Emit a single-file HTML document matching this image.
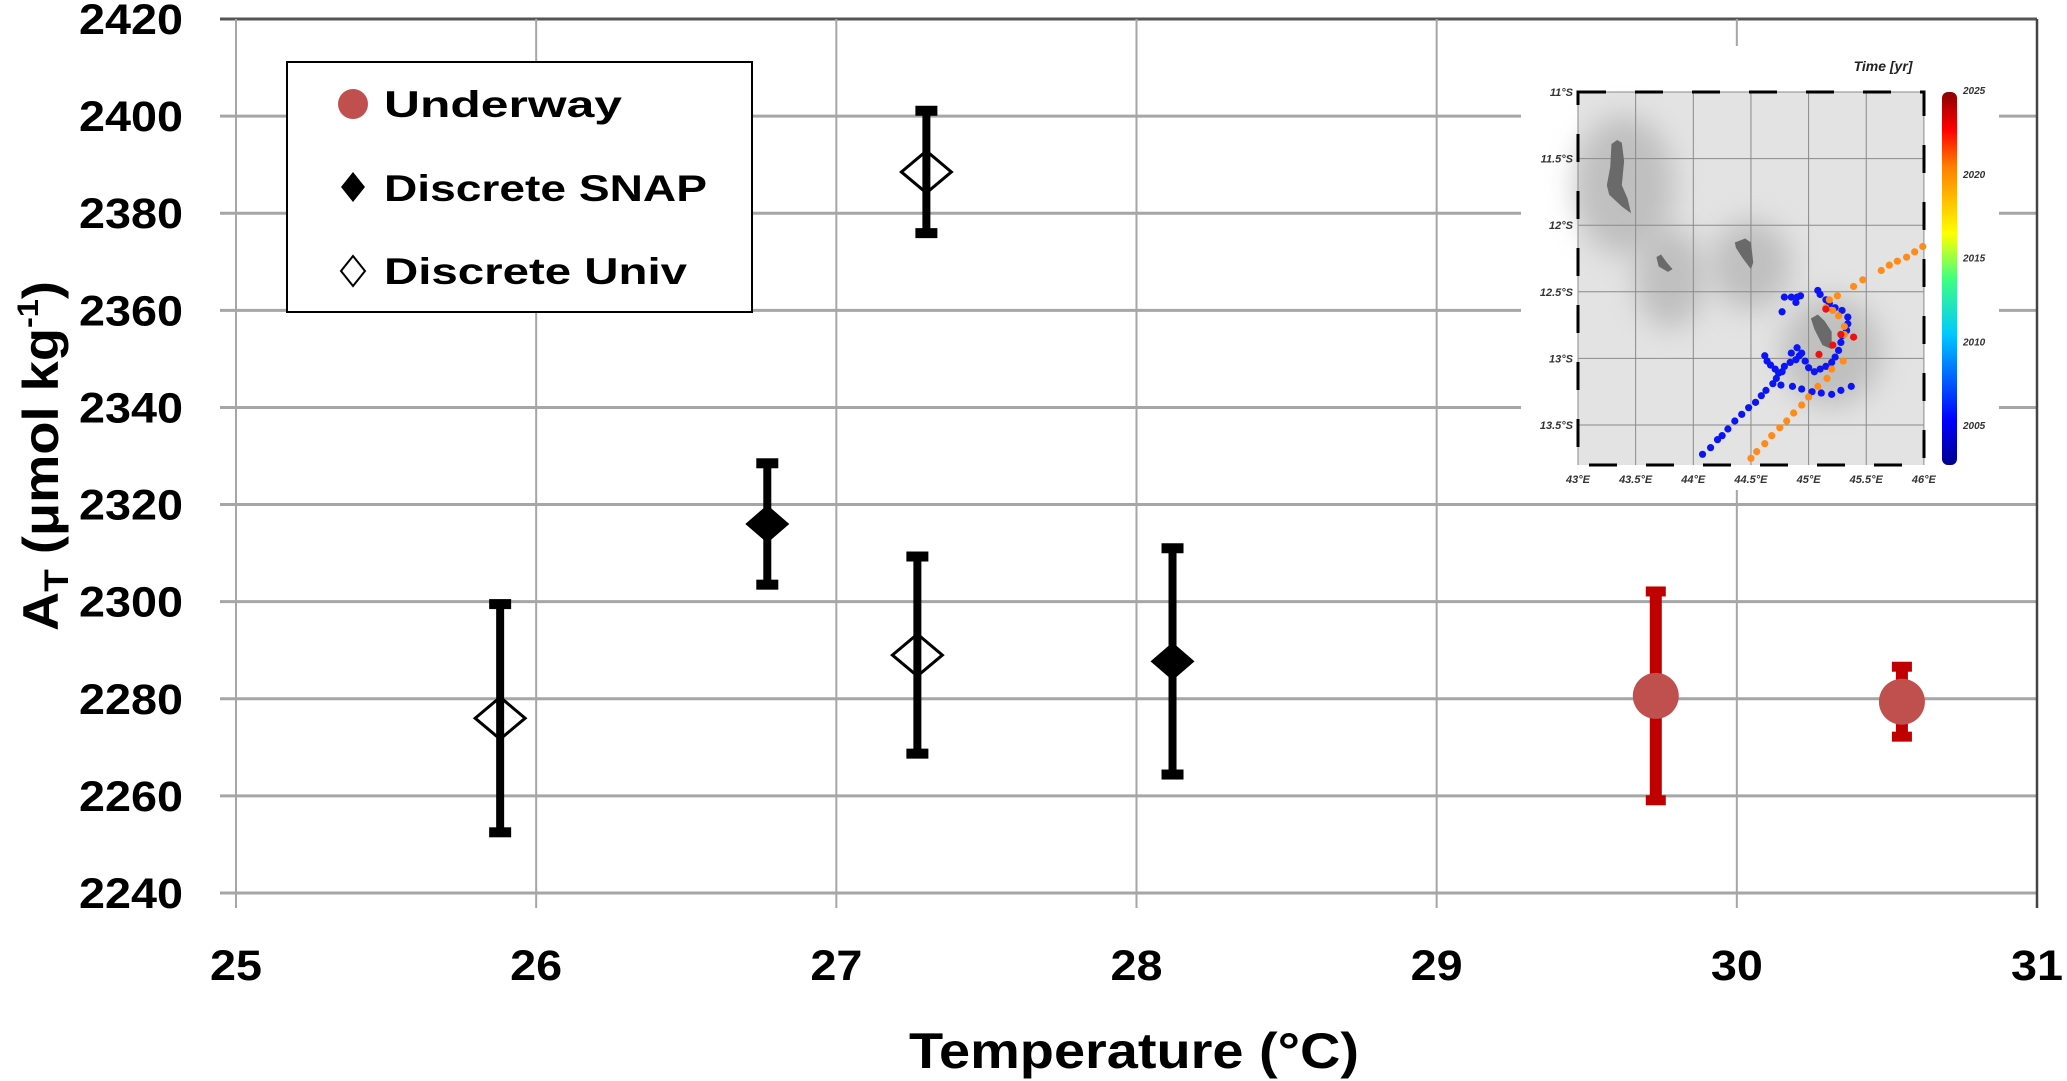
<!DOCTYPE html>
<html><head><meta charset="utf-8"><style>
html,body{margin:0;padding:0;background:#fff;}
svg{display:block;font-family:"Liberation Sans",sans-serif;}
</style></head><body>
<svg id="chart" width="2067" height="1081" viewBox="0 0 2067 1081" xmlns="http://www.w3.org/2000/svg">
<g id="grid"></g>
<g id="ticks"></g>
<g id="marks"></g>
<text transform="translate(58,456) rotate(-90)" text-anchor="middle" font-weight="bold" font-size="50" textLength="350" lengthAdjust="spacingAndGlyphs" fill="#000">A<tspan font-size="34" dy="10">T</tspan><tspan dy="-10"> (μmol kg</tspan><tspan font-size="30" dy="-20">-1</tspan><tspan dy="20">)</tspan></text>
<text x="1134" y="1068" text-anchor="middle" font-weight="bold" font-size="50" textLength="450" lengthAdjust="spacingAndGlyphs" fill="#000">Temperature (°C)</text>
<g>
<rect x="287" y="62" width="465" height="250" fill="#fff" stroke="#000" stroke-width="2"/>
<circle cx="353" cy="104" r="15" fill="#c0504d"/>
<text x="384" y="117" font-weight="bold" font-size="37" textLength="238" lengthAdjust="spacingAndGlyphs">Underway</text>
<path d="M353,172 L365,187 L353,202 L341,187Z" fill="#000"/>
<text x="384" y="201" font-weight="bold" font-size="37" textLength="323" lengthAdjust="spacingAndGlyphs">Discrete SNAP</text>
<path d="M353,256 L365,271 L353,286 L341,271Z" fill="#fff" stroke="#000" stroke-width="2"/>
<text x="384" y="284" font-weight="bold" font-size="37" textLength="303" lengthAdjust="spacingAndGlyphs">Discrete Univ</text>
</g>
<g id="inset"></g>
</svg>
<script>
const NS="http://www.w3.org/2000/svg";
const xTicks=[25,26,27,28,29,30,31];
const yTicks=[2240,2260,2280,2300,2320,2340,2360,2380,2400,2420];
const underwayT=[29.73,30.55];
const underwayAT=[2280.6,2279.4];
const underwayErr=[21.5,7.2];
const snapT=[26.77,28.12];
const snapAT=[2316,2287.7];
const snapErr=[12.5,23.3];
const univT=[25.88,27.3,27.27];
const univAT=[2276,2388.5,2289];
const univErr=[23.5,12.6,20.3];
// inset map data (lon °E, lat °S)
const blueLon=[44.08,44.15,44.21,44.25,44.30,44.36,44.42,44.48,44.54,44.59,44.63,44.69,44.72,44.74,44.71,44.67,44.64,44.62,44.76,44.77,44.79,44.84,44.89,44.92,44.94,44.97,45.0,45.05,45.10,45.15,45.20,45.23,45.26,45.28,45.29,45.33,45.34,45.34,45.29,45.23,45.18,45.15,45.10,45.08,44.86,44.94,45.03,45.11,45.20,45.28,45.37,44.79,44.85,44.90,44.93,44.89,44.77,44.90,44.85];
const blueLat=[13.72,13.67,13.61,13.58,13.53,13.47,13.42,13.37,13.33,13.28,13.24,13.19,13.15,13.11,13.08,13.05,13.02,12.98,13.20,13.10,13.06,13.03,13.01,12.98,12.96,13.02,13.07,13.10,13.08,13.06,13.03,12.99,12.94,12.88,12.83,12.79,12.74,12.69,12.64,12.62,12.59,12.56,12.52,12.49,13.21,13.23,13.25,13.26,13.27,13.24,13.21,12.54,12.54,12.54,12.53,12.58,12.65,12.92,12.96];
const orangeLon=[44.50,44.55,44.62,44.68,44.75,44.81,44.87,44.94,45.0,45.08,45.16,45.20,45.30,45.31,45.31,45.26,45.21,45.15,45.18,45.25,45.39,45.47,45.63,45.70,45.77,45.85,45.92,45.99];
const orangeLat=[13.75,13.70,13.64,13.58,13.52,13.47,13.41,13.35,13.29,13.21,13.15,13.08,13.02,12.82,12.76,12.68,12.64,12.62,12.56,12.53,12.46,12.41,12.34,12.30,12.27,12.24,12.20,12.16];
const redLon=[45.15,45.28,45.39,45.21,45.09];
const redLat=[12.63,12.82,12.84,12.90,12.97];
const islGCLon=[43.29,43.34,43.38,43.40,43.38,43.43,43.46,43.38,43.27,43.25,43.28];
const islGCLat=[11.39,11.36,11.38,11.52,11.70,11.80,11.91,11.86,11.77,11.70,11.56];
const islMoLon=[43.68,43.72,43.77,43.82,43.78,43.70];
const islMoLat=[12.24,12.22,12.28,12.33,12.35,12.31];
const islAnLon=[44.36,44.45,44.50,44.52,44.50,44.43,44.37];
const islAnLat=[12.13,12.10,12.13,12.28,12.33,12.25,12.17];
const islMaLon=[45.02,45.08,45.14,45.20,45.20,45.12,45.05];
const islMaLat=[12.70,12.67,12.72,12.80,12.93,12.90,12.78];
const lonTicks=[43,43.5,44,44.5,45,45.5,46];
const latTicks=[11,11.5,12,12.5,13,13.5];
const cbTicks=[2005,2010,2015,2020,2025];

const X0=236,X1=2037,Y0=893,Y1=19;
const xs=t=>X0+(t-25)/6*(X1-X0);
const ys=v=>Y0-(v-2240)/180*(Y0-Y1);
const mx=l=>1578+(l-43)*115.3;
const my=l=>92+(l-11)*133.2;
const cby=y=>467-(y-2002.5)/(2025-2002.5)*(467-90);

function mk(tag,attrs,parent){const e=document.createElementNS(NS,tag);for(const k in attrs)e.setAttribute(k,attrs[k]);parent.appendChild(e);return e;}
const grid=document.getElementById('grid'),ticks=document.getElementById('ticks'),marks=document.getElementById('marks'),inset=document.getElementById('inset');

yTicks.forEach(v=>{
  const l=mk('line',{x1:220,x2:X1,y1:ys(v),y2:ys(v),stroke:v===2420?'#555':'#a6a6a6','stroke-width':3},grid);
  
  
  const t=mk('text',{x:183,y:ys(v)+15,'text-anchor':'end','font-size':43,'font-weight':'bold',textLength:104,lengthAdjust:'spacingAndGlyphs'},ticks);
  t.textContent=v;
  
  
});
xTicks.forEach(v=>{
  const l=mk('line',{x1:xs(v),x2:xs(v),y1:Y1,y2:908,stroke:v===31?'#444':'#a6a6a6','stroke-width':v===31?2.5:2},grid);
  
  
  const t=mk('text',{x:xs(v),y:980,'text-anchor':'middle','font-size':43,'font-weight':'bold',textLength:52,lengthAdjust:'spacingAndGlyphs'},ticks);
  t.textContent=v;
  
  
});

function errbar(x,v,e,col,w,capw){
  const g=mk('g',{},marks);
  
  
  mk('line',{x1:x,x2:x,y1:ys(v+e),y2:ys(v-e),stroke:col,'stroke-width':w},g);
  mk('rect',{x:x-capw/2,y:ys(v+e)-5,width:capw,height:10,fill:col},g);
  mk('rect',{x:x-capw/2,y:ys(v-e)-5,width:capw,height:10,fill:col},g);
}
function diamond(x,y,hw,hh){return `M${x},${y-hh} L${x+hw},${y} L${x},${y+hh} L${x-hw},${y}Z`;}

univT.forEach((t,i)=>{
  const p=mk('path',{d:diamond(xs(t),ys(univAT[i]),25,21),fill:'#fff',stroke:'#000','stroke-width':3},marks);
  
  
  errbar(xs(t),univAT[i],univErr[i],'#000',8,22);
});
snapT.forEach((t,i)=>{
  errbar(xs(t),snapAT[i],snapErr[i],'#000',8,22);
  const p=mk('path',{d:diamond(xs(t),ys(snapAT[i]),22,19),fill:'#000'},marks);
  
  
});
underwayT.forEach((t,i)=>{
  errbar(xs(t),underwayAT[i],underwayErr[i],'#c00000',12,20);
  const c=mk('circle',{cx:xs(t),cy:ys(underwayAT[i]),r:23,fill:'#c0504d'},marks);
  
  
});

// inset
mk('rect',{x:1521,y:46,width:478,height:444,fill:'#fff'},inset);
const defs=mk('defs',{},inset);
const fl=mk('filter',{id:'bl',x:'-50%',y:'-50%',width:'200%',height:'200%'},defs);
mk('feGaussianBlur',{stdDeviation:14},fl);
const cg=mk('linearGradient',{id:'cb',x1:0,y1:1,x2:0,y2:0},defs);
[['0','#00008f'],['0.12','#0000ff'],['0.35','#00c8ff'],['0.5','#40ff80'],['0.62','#ffff00'],['0.8','#ff7f00'],['0.9','#ff0000'],['1','#8b0000']].forEach(s=>mk('stop',{offset:s[0],'stop-color':s[1]},cg));
mk('rect',{x:1578,y:92,width:346,height:373,fill:'#e3e3e3'},inset);
const shades=[[43.4,11.7,50,70],[43.8,12.4,35,50],[44.5,12.3,40,45],[45.2,12.95,50,55]];
shades.forEach(s=>mk('ellipse',{cx:mx(s[0]),cy:my(s[1]),rx:s[2],ry:s[3],fill:'#a8a8a8',opacity:0.6,filter:'url(#bl)'},inset));
lonTicks.forEach(l=>{mk('line',{x1:mx(l),x2:mx(l),y1:92,y2:465,stroke:'#8a8a8a','stroke-width':1},inset);
  const t=mk('text',{x:mx(l),y:483,'text-anchor':'middle','font-size':11,'font-weight':'bold','font-style':'italic',fill:'#333'},inset);t.textContent=l+'°E';
  
  });
latTicks.forEach(l=>{mk('line',{x1:1578,x2:1924,y1:my(l),y2:my(l),stroke:'#8a8a8a','stroke-width':1},inset);
  const t=mk('text',{x:1573,y:my(l)+4,'text-anchor':'end','font-size':11,'font-weight':'bold','font-style':'italic',fill:'#333'},inset);t.textContent=l+'°S';
  
  });
mk('rect',{x:1578,y:92,width:346,height:373,fill:'none',stroke:'#000','stroke-width':3,'stroke-dasharray':'28,29'},inset);
function poly(lo,la){return lo.map((v,i)=>mx(v)+','+my(la[i])).join(' ');}
[[islGCLon,islGCLat],[islMoLon,islMoLat],[islAnLon,islAnLat],[islMaLon,islMaLat]].forEach(p=>{
  const e=mk('polygon',{points:poly(p[0],p[1]),fill:'#6a6a6a'},inset);
  
  
});
function dots(lo,la,col){lo.forEach((v,i)=>{const c=mk('circle',{cx:mx(v),cy:my(la[i]),r:3.6,fill:col},inset);
  
  });}
dots(blueLon,blueLat,'#0a14f5');dots(orangeLon,orangeLat,'#ff8c1a');dots(redLon,redLat,'#f01010');
mk('rect',{x:1942,y:92,width:15,height:373,rx:6,fill:'url(#cb)'},inset);
cbTicks.forEach(y=>{const t=mk('text',{x:1963,y:cby(y)+4,'font-size':10,'font-weight':'bold','font-style':'italic',fill:'#333'},inset);t.textContent=y;
  
  });
const tt=mk('text',{x:1883,y:71,'text-anchor':'middle','font-size':14,'font-weight':'bold','font-style':'italic',fill:'#222'},inset);tt.textContent='Time [yr]';


</script>
</body></html>
